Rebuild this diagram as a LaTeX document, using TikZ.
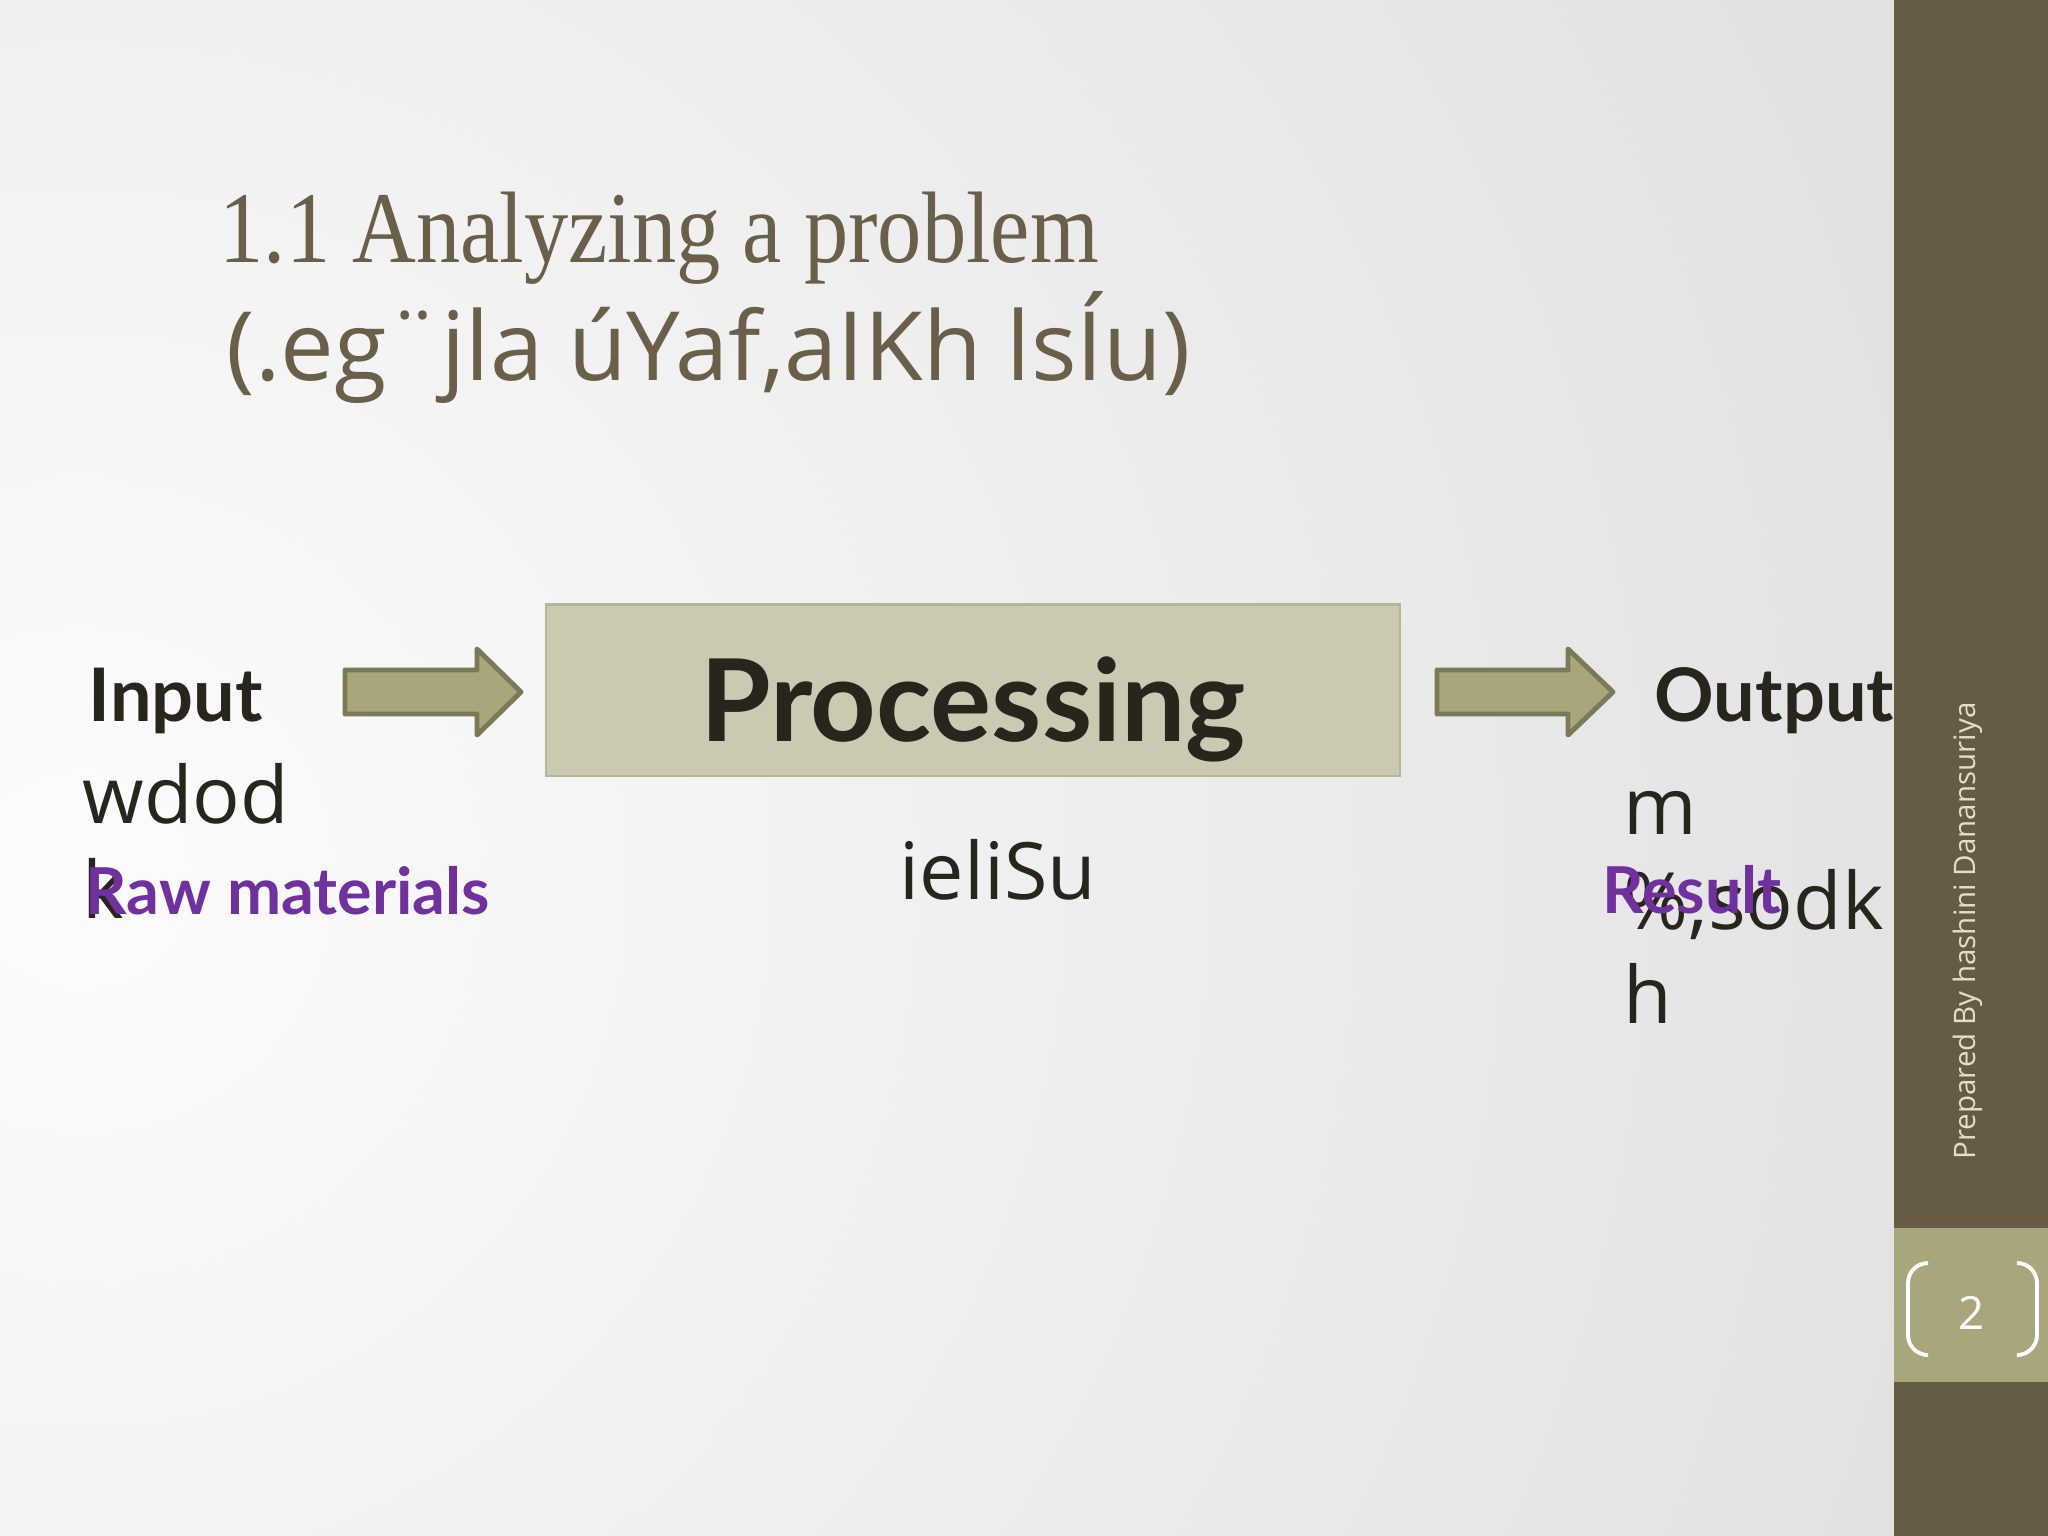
\documentclass[tikz,border=0pt]{standalone}
\usepackage{fontspec}
\setmainfont{Lato}
\newfontfamily\titleserif[FakeStretch=0.87]{Liberation Serif}
\newfontfamily\legacy{Open Sans}
\usetikzlibrary{positioning}
\definecolor{bark}{HTML}{665C46}
\definecolor{umber}{HTML}{6A5F48}
\definecolor{khaki}{HTML}{A9A67C}
\definecolor{khakiline}{HTML}{7B7956}
\definecolor{sand}{HTML}{CBC9B1}
\definecolor{sandline}{HTML}{B8B597}
\definecolor{soot}{HTML}{28261C}
\definecolor{grape}{HTML}{7030A0}
\definecolor{cream}{HTML}{E6DDC4}
\definecolor{fog}{HTML}{D7D7D7}
\definecolor{mist}{HTML}{FCFCFC}

\begin{document}
\begin{tikzpicture}[
  x=0.01cm, y=-0.01cm,
  title/.style={anchor=base west, inner sep=0pt, text=umber},
  head/.style={anchor=base west, inner sep=0pt, text=soot,
               font=\fontsize{21}{25}\selectfont\bfseries},
  gloss/.style={anchor=north west, inner sep=0pt, text=soot, align=left,
                font=\legacy\fontsize{22.5}{26.8}\selectfont},
  glossline/.style={anchor=base west, inner sep=0pt, text=soot,
                    font=\legacy\fontsize{22.5}{26.8}\selectfont},
  english/.style={anchor=base west, inner sep=0pt, text=grape,
                  font=\fontsize{18.4}{22}\selectfont\bfseries},
  procbox/.style={fill=sand, draw=sandline, line width=0.6pt,
                  minimum width=8.54cm, minimum height=1.71cm, inner sep=0pt,
                  text height=29.3pt, text depth=0pt, text=soot,
                  font=\fontsize{32.5}{38}\selectfont\bfseries},
  fatarrow/.style={fill=khaki, draw=khakiline, line width=1.4pt,
                   line join=round},
  bracket/.style={draw=white, line width=1.1pt, rounded corners=0.2cm},
]
\useasboundingbox (0,0) rectangle (2048,1536);

% slide background
\begin{scope}
  \clip (0,0) rectangle (1894,1536);
  \fill[fog] (0,0) rectangle (1894,1536);
  \shade[inner color=mist, outer color=fog] (80,880) circle (27cm);
\end{scope}

% side bar
\fill[bark] (1894,0) rectangle (2048,1536);
\fill[khaki] (1894,1228) rectangle (2048,1382);
\node[rotate=90, text=cream, inner sep=0pt,
      font=\legacy\fontsize{8.4}{10}\selectfont] (author) at (1968,931)
  {Prepared By hashini Danansuriya};
\node[text=white, inner sep=0pt, font=\legacy\fontsize{13}{15}\selectfont]
  (page) at (1972,1313) {2};
\draw[bracket] (1927,1263) -- (1908,1263) -- (1908,1355) -- (1927,1355);
\draw[bracket] (2018,1263) -- (2037,1263) -- (2037,1355) -- (2018,1355);

% title
\node[title, font=\titleserif\fontsize{28.9}{34}\selectfont] (title) at (219,262)
  {1.1 Analyzing a problem};
\node[title, font=\legacy\fontsize{27.2}{32}\selectfont] (subtitle) at (226,380)
  {(.eg¨jla úYaf,aIKh lsÍu)};

% input -> processing -> output
\node[head] (input) at (88,721) {Input};
\node[gloss] (inputsi) at (82,763) {wdod\\k};
\node[english] (raw) at (85,914) {Raw materials};

\node[procbox] (proc) at (973,690) {Processing};
\node[glossline] (procsi) at (899,899) {ieliSu};

\node[head] (output) at (1654,721) {Output};
\node[gloss] (outputsi) at (1623,791) {m\\\%,sodk\\h};
\node[english] (result) at (1602,913) {Result};

\coordinate (inarrow) at (345,692);
\coordinate (outarrow) at (1437,692);
\draw[fatarrow] (inarrow) ++(0,-22) -- ++(132,0) -- ++(0,-21) -- ++(44,43)
  -- ++(-44,43) -- ++(0,-21) -- ++(-132,0) -- cycle;
\draw[fatarrow] (outarrow) ++(0,-22) -- ++(131,0) -- ++(0,-21) -- ++(45,43)
  -- ++(-45,43) -- ++(0,-21) -- ++(-131,0) -- cycle;
\end{tikzpicture}
\end{document}
